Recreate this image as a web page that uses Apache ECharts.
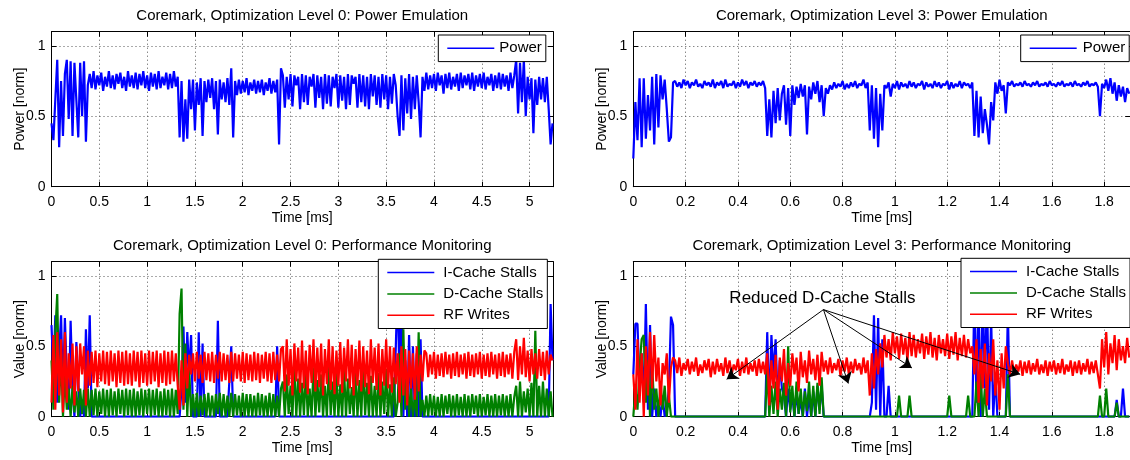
<!DOCTYPE html>
<html>
<head>
<meta charset="utf-8">
<script src="https://cdn.jsdelivr.net/npm/echarts/dist/echarts.min.js"></script>
<style>
html, body { margin: 0; padding: 0; background: #fff; }
#chart { width: 1130px; height: 460px; }
</style>
</head>
<body>
<div id="chart"></div>
<script>
// sample spacing of the traces (ms)
const stepL0 = 0.02;
const stepL3 = 0.008;

// values in percent of the normalised range
const powerL0 = [
  45,33,62,90,28,75,36,80,90,48, 89,36,88,89,35,88,50,89,32,72,
  80,70,82,69,79,72,81,68,78,71, 82,70,79,69,80,73,81,70,78,68,
  82,71,79,70,81,69,80,72,82,70, 79,68,81,71,80,69,82,70,78,72,
  81,69,80,70,82,71,78,
  35,75,32,62,34,76,55,
  76,40,74,58,77,36,75,60,76,63, 77,55,75,37,76,62,74,60,77,58, 84,35,75,65,
  76,66,75,67,77,65,74,68,76,66, 75,67,76,65,74,68,77,66,75,67,76,
  30,84,
  79,56,78,62,80,57,79,72,78,55, 80,60,79,58,78,71,80,56,79,63,
  78,55,80,59,79,57,78,70,80,56, 79,61,78,55,80,58,79,73,78,56,
  80,60,79,57,78,55,80,64,79,58, 78,56,80,62,79,55,78,59,80,72,
  50,36,79,40,77,52,80,48,78,55,79,60,35,78,68,
  81,69,79,70,80,68,81,72,79,66, 80,70,81,69,78,71,80,68,81,70,
  79,72,80,69,81,68,79,71,80,70, 81,69,78,72,80,68,79,70,81,69,
  80,71,79,68,81,70,79,
  90,52,88,60,90,50,78,62,77,38, 76,58,78,62,77,60,78,55,30,45
];

const powerL3 = [
  20,60,33,77,28,77,34,65,40,78, 30,80,42,79,62,76,55,32,35,74,
  75,71,74,70,76,72,75,70,74,72, 76,71,73,70,75,72,74,71,76,70,
  74,72,75,70,76,71,73,72,75,70, 74,71,76,72,75,70,74,72,75,71,
  74,72,75,70,
  36,62,35,68,45,70,47,66,
  72,44,70,36,72,58,71,63,73,64, 72,37,71,62,74,66,75,60,72,50, 70,66,
  72,69,74,70,73,71,75,69,73,70, 74,71,75,70,73,72,76,70,74,
  40,72,34,70,28,66,40,
  72,70,74,64, 73,70,75,69,74,71,73,70,75,71, 74,70,73,72,75,69,74,71,73,70,
  75,71,74,70,73,72,75,69,74,70, 73,71,75,70,74,72,73,70,74,
  36,68,35,64,38,55,44,30,60,47,
  74,66,76,68,72,52,
  74,72,75,71,73,72,74,71,75,72, 73,71,74,72,75,71,73,72,74,71,
  75,72,73,71,74,72,75,71,73,72, 74,71,75,72,73,71,74,72,75,71,
  73,72,74,71,
  50,73,70,76,68,77,66,74,61,72, 64,71,60,70,66
];

const icacheL0 = [
  65,30,72,10,45,72,15,70,30,5, 68,20,0,53,25,0,10,0,62,20,
  72,0,0,0,0,0,0,0,0,0, 0,0,0,0,0,0,0,0,0,0,
  0,0,0,0,0,0,0,0,0,0, 0,0,0,0,0,0,0,0,0,0,
  0,0,0,0,0,0,0,0,20,64, 10,60,30,58,0,0,0,60,0,52,
  0,0,0,0,0,0,0,68,0,0, 0,0,0,0,50,0,0,0,0,0,
  0,0,0,0,0,0,0,0,0,0, 0,0,0,0,0,0,0,0,50,0,
  0,0,0,0,0,0,0,0,0,0, 0,0,0,0,0,0,0,0,0,0,
  0,0,0,0,0,0,0,0,0,0, 0,0,0,0,0,0,0,0,0,0,
  0,0,0,0,0,0,0,0,0,0, 0,0,0,0,0,0,0,0,0,0,
  0,95,20,92,0,40,0,58,0,50, 0,45,0,55,0,0,0,0,0,0,
  0,0,0,0,0,0,0,0,0,0, 0,0,0,0,0,0,0,0,0,0,
  0,0,0,0,0,0,0,0,0,0, 0,0,0,0,0,0,0,0,0,0,
  0,0,0,0,0,0,0,0,0,0, 0,0,0,0,0,0,0,0,0,0,
  0,80,40
];

const dcacheL0 = [
  40,5,60,87,10,45,0,30,5,20, 0,22,3,18,0,20,2,19,0,
  20,0,19,1,20,0,18,2,20,0, 19,0,20,1,18,0,20,2,19,0,
  20,1,19,0,20,0,18,1,20,0, 19,2,20,0,19,1,20,0,18,0,
  20,1,19,0,20,0,19,2,
  73,91,5,52,0,35,0,
  16,0,17,0,15,1,16,0,17,0, 15,0,16,2,17,0,16,0,15,0,
  17,0,16,1,15,0,17,0,16,0, 16,0,15,0,17,1,16,0,15,0,
  17,0,16,0,15,0,20,
  25,0,30,2,22,0,38,0,27,0, 24,1,32,0,20,0,35,0,26,3,
  30,0,22,0,36,1,25,0,31,0, 23,0,34,0,27,2,21,0,33,0,
  26,0,38,1,24,0,29,0,22,0, 31,0,25,2,34,0,23,0,28,0,
  10,45,0,62,5,30,0,20,0,15,0,60,0,12,0,
  15,0,16,1,15,0,14,0,16,0, 15,2,16,0,15,0,16,1,14,0,
  16,0,15,0,16,2,15,0,16,0, 14,1,16,0,15,0,16,0,15,1,
  16,0,15,0,16,0,14,
  22,0,25,0,18,3,20,0,24,0, 61,0,22,0,25,0,20,0,18,0
];

const rfL0 = [
  10,58,5,60,15,55,3,60,10,45, 20,52,8,50,18,52,30,50,8,
  47,22,46,24,47,21,45,25,47,23, 46,22,47,25,45,21,47,24,46,22,
  47,23,45,22,47,25,46,21,47,24, 45,22,47,23,46,25,47,21,45,24,
  47,22,46,23,47,25,45,22,
  5,40,8,45,20,44,30,
  45,25,46,27,44,24,46,26,45,25, 46,24,44,27,46,25,45,26,44,24,
  46,25,45,27,44,25,46,24,45,26, 44,25,46,26,45,24,44,27,46,25,
  45,24,46,26,44,25,48,
  50,18,55,22,48,15,52,25,49,17, 54,20,47,16,51,24,55,18,49,21,
  52,15,48,23,55,19,50,16,47,22, 53,17,49,25,55,20,51,15,48,22,
  54,18,50,21,47,16,55,24,49,19, 52,15,48,22,55,20,50,17,49,23,
  45,10,50,15,48,8,47,20,45,12,50,18,44,25,47,
  45,28,44,30,46,27,44,29,45,28, 46,30,44,27,45,29,46,28,44,30,
  45,27,46,29,44,28,45,30,46,27, 44,29,45,28,46,30,44,27,45,29,
  46,28,44,30,45,27,46,
  55,26,50,30,56,28,47,25,48,30, 45,27,48,29,46,26,47,30,44,40
];

const icacheL3 = [
  30,66,66,20,45,10,80,5,65,0, 20,0,10,0,15,0,5,20,71,65,
  0,0,0,0,0,0,0,0,0,0, 0,0,0,0,0,0,0,0,0,0,
  0,0,0,0,0,0,0,0,0,0, 0,0,0,0,0,0,0,0,0,0,
  0,0,0,0,60,5,58,30,55,10, 40,20,15,0,20,5,15,0,18,2,
  12,0,20,0,15,0,18,0,22,5, 22,0,0,0,0,0,0,0,0,0,
  0,0,0,0,0,0,0,0,0,0, 0,0,0,0,10,72,5,70,0,55,
  0,0,22,0,0,0,0,0,0,0, 0,0,0,0,0,0,0,0,0,0,
  0,0,0,0,0,0,0,0,0,0, 0,0,0,0,0,0,0,0,0,0,
  0,0,0,90,10,85,0,92,20,88, 5,70,0,30,0,0,0,0,0,75,
  0,0,0,0,0,0,0,0,0,0, 0,0,0,0,0,0,0,0,0,0,
  0,0,0,0,0,0,0,0,0,0, 0,0,0,0,0,0,0,0,0,0,
  0,0,0,0,0,0,0,0,0,0, 0,12,0,0,20,0,0,0
];

const dcacheL3 = [
  0,20,5,35,55,58,10,40,0,38, 5,20,0,25,5,22,0,15,0,0,
  0,0,0,0,0,0,0,0,0,0, 0,0,0,0,0,0,0,0,0,0,
  0,0,0,0,0,0,0,0,0,0, 0,0,0,0,0,0,0,0,0,0,
  0,0,0,0,35,0,22,2,25,0, 20,5,24,0,50,3,22,0,25,2,
  20,0,18,4,25,0,22,0,24,2, 28,0,0,0,0,0,0,0,0,0,
  0,0,0,0,0,0,0,0,0,0, 0,0,0,0,0,0,0,0,0,0,
  0,0,0,0,0,0,0,15,0,0, 0,0,15,0,0,0,0,0,0,0,
  0,0,0,0,0,0,0,0,0,0, 0,15,0,0,0,0,0,0,0,0,
  15,0,0,0,25,0,30,0,20,0, 0,0,0,0,0,0,0,0,0,30,
  0,0,0,0,0,0,0,0,0,0, 0,0,0,0,0,0,0,0,0,0,
  0,0,0,0,0,0,0,0,0,0, 0,0,0,0,0,0,0,0,0,0,
  0,0,0,15,0,0,20,0,0,0, 0,10,0,0,0,0,0,0
];

const rfL3 = [
  30,5,55,10,45,0,50,15,60,20, 58,25,42,8,38,30,45,10,35,42,
  40,31,42,29,38,33,41,30,39,32, 42,29,37,31,40,33,41,28,39,30,
  41,32,38,29,42,31,40,30,37,33, 41,29,39,31,42,30,38,32,40,29,
  41,31,39,30,
  45,8,40,20,44,5,42,25,48,15, 38,22,45,30,42,18,46,28,40,24,
  47,30,41,26,44,22,46,32,
  40,30,42,31,38,33,41,29,40,32, 42,30,39,31,41,33,38,30,42,31,40,
  15,45,20,48,30,52,35,
  58,42,55,40,60,45,57,41,59,44, 56,40,60,43,58,42,55,45,59,41,
  57,44,60,42,56,40,58,45,55,43, 59,41,57,44,60,40,56,43,58,42,
  55,45,50,
  30,55,10,48,20,52,8,45,25,55, 15,40,5,45,20,50,
  38,30,40,31,37,32,40,29,39,31, 40,30,38,32,41,30,37,31,40,29,
  39,32,40,30,38,31,41,30,37,32, 40,29,39,31,40,30,38,32,41,30,
  39,31,40,30,
  20,55,35,60,30,52,38,58,33,55, 40,50,38,56,42
];

const titles = [
  'Coremark, Optimization Level 0: Power Emulation',
  'Coremark, Optimization Level 3: Power Emulation',
  'Coremark, Optimization Level 0: Performance Monitoring',
  'Coremark, Optimization Level 3: Performance Monitoring'
];
const yNames = ['Power [norm]', 'Power [norm]', 'Value [norm]', 'Value [norm]'];
const xMax = [5.245, 1.9, 5.245, 1.9];
const xStep = [0.5, 0.2, 0.5, 0.2];

// annotation in the lower right panel (data coordinates)
const noteText = 'Reduced D-Cache Stalls';
const noteAt = [0.723, 0.838];
const arrowFrom = [0.727, 0.76];
const arrowTips = [[0.357, 0.266], [0.822, 0.236], [1.065, 0.346], [1.479, 0.301]];

const FONT = '"Liberation Sans", Arial, Helvetica, sans-serif';
const BLUE = '#0000ff', GREEN = '#008000', RED = '#ff0000';

const grids = [
  { left: 51.5, top: 31.7, width: 501.5, height: 155 },
  { left: 633.3, top: 31.7, width: 497, height: 155 },
  { left: 51.5, top: 261.7, width: 501.5, height: 155 },
  { left: 633.3, top: 261.7, width: 497, height: 155 }
];

function tickFmt(step) {
  return function (v) {
    const k = v / step;
    return Math.abs(k - Math.round(k)) < 1e-6 ? String(parseFloat(v.toFixed(3))) : '';
  };
}

const blackLine = { show: true, onZero: false, lineStyle: { color: '#000', width: 1 } };
const inTick = { show: true, inside: true, length: 5, lineStyle: { color: '#000', width: 1 } };
const dotted = { show: true, lineStyle: { color: '#555', width: 1, type: [1, 3] } };
const labelStyle = { color: '#000', fontSize: 14, fontFamily: FONT };
const nameStyle = { color: '#000', fontSize: 14, fontFamily: FONT };

const xAxis = [], yAxis = [];
grids.forEach(function (g, i) {
  xAxis.push({
    gridIndex: i, type: 'value', position: 'bottom', min: 0, max: xMax[i], interval: xStep[i],
    axisLine: blackLine, axisTick: inTick, splitLine: dotted,
    axisLabel: Object.assign({ margin: 8, formatter: tickFmt(xStep[i]) }, labelStyle),
    name: 'Time [ms]', nameLocation: 'middle', nameGap: 24, nameMoveOverlap: false,
    nameTextStyle: nameStyle
  });
  xAxis.push({
    gridIndex: i, type: 'value', position: 'top', min: 0, max: xMax[i], interval: xStep[i],
    axisLine: blackLine, axisTick: inTick, splitLine: { show: false }, axisLabel: { show: false }
  });
  yAxis.push({
    gridIndex: i, type: 'value', position: 'left', min: 0, max: 1.1, interval: 0.5,
    axisLine: blackLine, axisTick: inTick, splitLine: dotted,
    axisLabel: Object.assign({ margin: 6, formatter: tickFmt(0.5) }, labelStyle),
    name: yNames[i], nameLocation: 'middle', nameGap: 24, nameMoveOverlap: false,
    nameTextStyle: nameStyle
  });
  yAxis.push({
    gridIndex: i, type: 'value', position: 'right', min: 0, max: 1.1, interval: 0.5,
    axisLine: blackLine, axisTick: inTick, splitLine: { show: false }, axisLabel: { show: false }
  });
});

function trace(panel, name, values, step, color) {
  return {
    type: 'line', name: name, xAxisIndex: panel * 2, yAxisIndex: panel * 2,
    data: values.map(function (v, i) { return [i * step, v / 100]; }),
    showSymbol: false, symbol: 'none', silent: true, animation: false,
    lineStyle: { color: color, width: 2.2 }, itemStyle: { color: color }
  };
}

const series = [
  trace(0, 'Power', powerL0, stepL0, BLUE),
  trace(1, 'Power', powerL3, stepL3, BLUE),
  trace(2, 'I-Cache Stalls', icacheL0, stepL0, BLUE),
  trace(2, 'D-Cache Stalls', dcacheL0, stepL0, GREEN),
  trace(2, 'RF Writes', rfL0, stepL0, RED),
  trace(3, 'I-Cache Stalls', icacheL3, stepL3, BLUE),
  trace(3, 'D-Cache Stalls', dcacheL3, stepL3, GREEN),
  trace(3, 'RF Writes', rfL3, stepL3, RED)
];

series[7].markLine = {
  silent: true, animation: false, symbol: ['none', 'arrow'], symbolSize: 11,
  label: { show: false },
  lineStyle: { color: '#000', width: 1, type: 'solid' },
  itemStyle: { color: '#000' },
  data: arrowTips.map(function (t) { return [{ coord: arrowFrom }, { coord: t }]; })
};
series[7].markPoint = {
  silent: true, animation: false, symbol: 'rect', symbolSize: 1,
  itemStyle: { color: 'rgba(0,0,0,0)' },
  label: { show: true, position: 'inside', formatter: noteText, color: '#000', fontSize: 17, fontFamily: FONT },
  data: [{ coord: noteAt }]
};

function legendBox(left, top, names, textPad) {
  return {
    left: left, top: top, orient: 'vertical', data: names, icon: 'rect',
    padding: [5.3, 4, 5.3, 9], itemGap: 5.3, itemWidth: 47, itemHeight: 1.5,
    borderColor: '#000', borderWidth: 1, backgroundColor: '#fff', borderRadius: 0,
    selectedMode: false,
    textStyle: { color: '#000', fontSize: 15, fontFamily: FONT, lineHeight: 16, padding: [0, 0, 0, textPad] }
  };
}

const perfNames = ['I-Cache Stalls', 'D-Cache Stalls', 'RF Writes'];

const chart = echarts.init(document.getElementById('chart'), null, { renderer: 'canvas' });
chart.setOption({
  animation: false,
  backgroundColor: '#fff',
  grid: grids.map(function (g) { return Object.assign({ containLabel: false, outerBoundsMode: 'none' }, g); }),
  xAxis: xAxis,
  yAxis: yAxis,
  legend: [
    legendBox(438.3, 35, ['Power'], 0),
    legendBox(1020.7, 35, ['Power'], 1),
    legendBox(378.3, 259.3, perfNames, 4),
    legendBox(961, 258.3, perfNames, 4)
  ],
  graphic: titles.map(function (t, i) {
    const g = grids[i];
    return {
      type: 'text', silent: true,
      x: g.left + g.width / 2, y: g.top - 16,
      style: { text: t, align: 'center', verticalAlign: 'middle', fill: '#000', fontSize: 15, fontFamily: FONT }
    };
  }),
  series: series
});
</script>
</body>
</html>
